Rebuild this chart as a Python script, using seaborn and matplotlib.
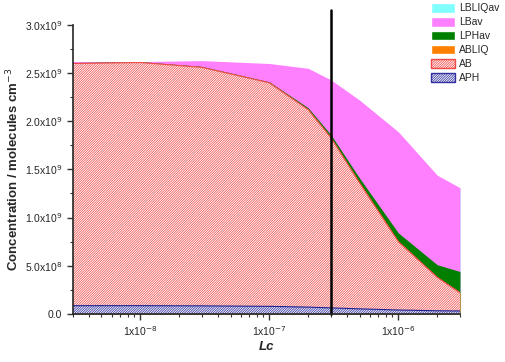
import matplotlib.pyplot as plt
import matplotlib.ticker as mticker
from matplotlib.patches import Patch
import pandas as pd
import seaborn as sns

sns.set_style('ticks')
plt.rcParams['font.family'] = ['Liberation Sans', 'DejaVu Sans']
plt.rcParams['hatch.linewidth'] = 0.55

# Lc values (x) and concentrations (molecules cm^-3)
lc = [3e-9, 1e-8, 3e-8, 1e-7, 2e-7, 3e-7, 5e-7, 1e-6, 2e-6, 3e-6]
lbliqav = [2.61e9, 2.61e9, 2.62e9, 2.59e9, 2.54e9, 2.42e9, 2.21e9, 1.88e9, 1.43e9, 1.30e9]
lbav = [2.62e9, 2.62e9, 2.63e9, 2.60e9, 2.55e9, 2.43e9, 2.22e9, 1.89e9, 1.44e9, 1.31e9]
lphav = [2.61e9, 2.62e9, 2.57e9, 2.41e9, 2.14e9, 1.86e9, 1.41e9, 0.84e9, 0.51e9, 0.44e9]
abliq = [2.605e9, 2.615e9, 2.565e9, 2.405e9, 2.125e9, 1.835e9, 1.365e9, 0.755e9, 0.385e9, 0.225e9]
ab = [2.60e9, 2.61e9, 2.56e9, 2.40e9, 2.12e9, 1.83e9, 1.36e9, 0.75e9, 0.38e9, 0.22e9]
aph = [8.5e7, 8.5e7, 8.3e7, 7.8e7, 7.0e7, 6.2e7, 5.2e7, 4.0e7, 3.2e7, 3.0e7]
cut_lc = 3e-7

df = pd.DataFrame({'Lc': lc, 'LBLIQav': lbliqav, 'LBav': lbav, 'LPHav': lphav,
                   'ABLIQ': abliq, 'AB': ab, 'APH': aph})

fig = plt.figure(figsize=(5.06, 3.62), dpi=100)
ax = fig.add_axes([0.144, 0.133, 0.765, 0.798])

hatch = '/' * 14

# solid areas, each filled from zero, later ones drawn on top
ax.fill_between(df['Lc'], 0, df['LBLIQav'], color='#80ffff', lw=0)
ax.fill_between(df['Lc'], 0, df['LBav'], color='#ff80ff', lw=0)
ax.fill_between(df['Lc'], 0, df['LPHav'], color='#007f00', lw=0)
ax.fill_between(df['Lc'], 0, df['ABLIQ'], color='#ff8000', lw=0)
ax.fill_between(df['Lc'], 0, df['AB'], facecolor='white', edgecolor='#f25050',
                hatch=hatch, lw=0)
sns.lineplot(data=df, x='Lc', y='AB', color='#f04848', lw=0.8, ax=ax)
ax.fill_between(df['Lc'], 0, df['APH'], facecolor='white', edgecolor='#3030a0',
                hatch=hatch, lw=0)
sns.lineplot(data=df, x='Lc', y='APH', color='#202090', lw=0.8, ax=ax)

ax.plot([cut_lc, cut_lc], [0, 3.16e9], color='black', lw=1.8, clip_on=False,
        zorder=5)

ax.set_xscale('log')
ax.set_xlim(3e-9, 3e-6)
ax.set_ylim(0, 3e9)
ax.xaxis.set_major_locator(mticker.FixedLocator([1e-8, 1e-7, 1e-6]))
ax.xaxis.set_major_formatter(mticker.FixedFormatter(
    ['1x10$^{-8}$', '1x10$^{-7}$', '1x10$^{-6}$']))
ax.xaxis.set_minor_locator(mticker.LogLocator(base=10, subs=range(2, 10), numticks=20))
ax.xaxis.set_minor_formatter(mticker.NullFormatter())

ax.yaxis.set_major_locator(mticker.MultipleLocator(5e8))
ax.yaxis.set_minor_locator(mticker.MultipleLocator(2.5e8))
ylabels = ['0.0', '5.0x10$^{8}$', '1.0x10$^{9}$', '1.5x10$^{9}$',
           '2.0x10$^{9}$', '2.5x10$^{9}$', '3.0x10$^{9}$']
ax.yaxis.set_major_formatter(mticker.FuncFormatter(
    lambda v, p: ylabels[int(round(v / 5e8))] if 0 <= round(v / 5e8) < len(ylabels) else ''))

ax.tick_params(which='major', length=4, width=1, labelsize=7.5, color='#333333')
ax.tick_params(which='minor', length=2.5, width=0.8, color='#333333')
for s in ['top', 'right']:
    ax.spines[s].set_visible(False)
for s in ['left', 'bottom']:
    ax.spines[s].set_linewidth(1.2)
    ax.spines[s].set_zorder(6)

ax.set_xlabel('Lc', fontsize=9.5, fontweight='bold', style='italic', labelpad=2)
ax.set_ylabel('Concentration / molecules cm$^{-3}$', fontsize=9.5, fontweight='bold',
              labelpad=3)

handles = [
    Patch(facecolor='#80ffff', label='LBLIQav'),
    Patch(facecolor='#ff80ff', label='LBav'),
    Patch(facecolor='#007f00', label='LPHav'),
    Patch(facecolor='#ff8000', label='ABLIQ'),
    Patch(facecolor='white', edgecolor='#f04848', hatch=hatch, label='AB'),
    Patch(facecolor='white', edgecolor='#3030a0', hatch=hatch, label='APH'),
]
fig.legend(handles=handles, loc='upper left', bbox_to_anchor=(0.838, 1.012),
           frameon=False, fontsize=7.5, handlelength=2.3, handleheight=1.05,
           handletextpad=0.35, labelspacing=0.34, borderpad=0.2)

fig.savefig('out.png', dpi=100)
